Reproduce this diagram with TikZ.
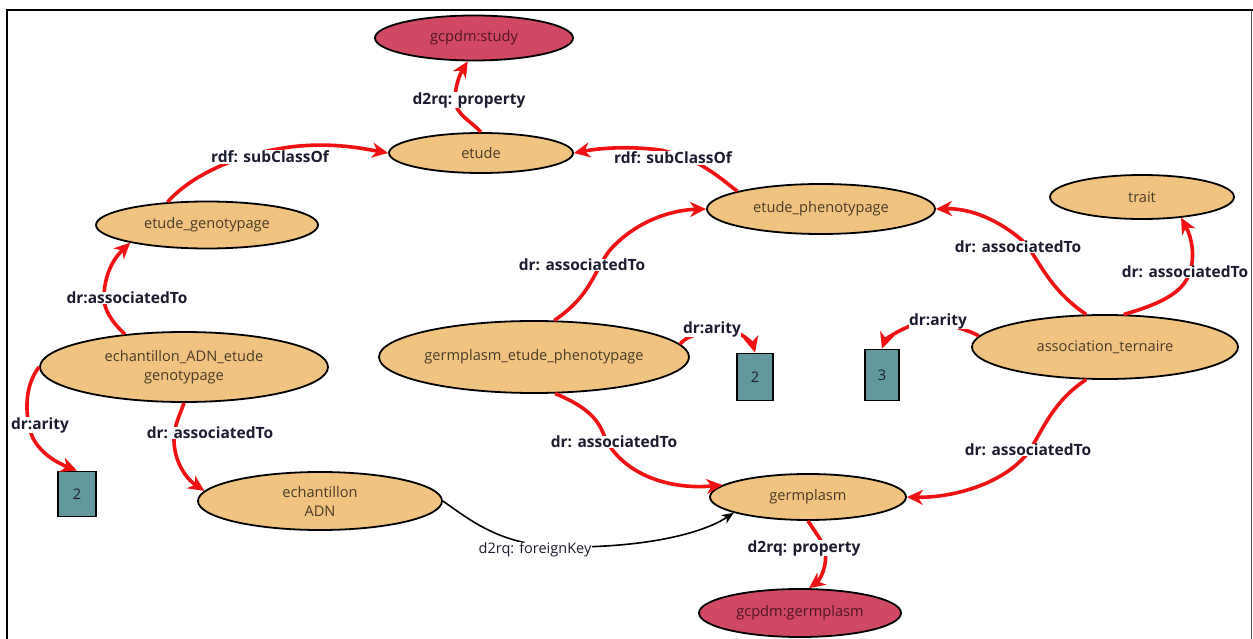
\documentclass[tikz,border=0pt]{standalone}
\usepackage{fontspec}
\setmainfont{Open Sans}
\usetikzlibrary{arrows.meta,shapes.geometric}
\definecolor{nodetan}{RGB}{240,195,128}
\definecolor{studyred}{RGB}{208,72,98}
\definecolor{boxteal}{RGB}{98,152,157}
\definecolor{edgered}{RGB}{240,18,18}
\definecolor{lblcol}{RGB}{28,28,48}
\definecolor{txtcol}{RGB}{72,58,40}
\definecolor{studytxt}{RGB}{80,20,35}
\begin{document}
\begin{tikzpicture}[x=1pt,y=-1pt,
  cls/.style={ellipse, draw=black, line width=1.8pt, fill=nodetan, inner sep=0pt,
    font=\fontsize{14.6}{19}\selectfont, text=txtcol, align=center},
  ext/.style={cls, fill=studyred, text=studytxt},
  numbox/.style={rectangle, draw=black, line width=1.8pt, fill=boxteal, inner sep=0pt,
    font=\fontsize{14.6}{16}\selectfont, text=lblcol},
  lbl/.style={fill=white, inner sep=0.5pt, font=\bfseries\fontsize{15.5}{17}\selectfont, text=lblcol},
  fklbl/.style={fill=white, inner sep=0.5pt, font=\fontsize{14.5}{16}\selectfont, text=lblcol},
  redge/.style={draw=edgered, line width=3.6pt, -{Stealth[length=16pt,width=15pt,inset=5pt]}},
  bedge/.style={draw=black, line width=1.6pt, -{Stealth[length=12pt,width=10pt]}}]
\useasboundingbox (0,0) rectangle (1253,639);
\fill[white] (0,0) rectangle (1253,639);

% nodes
\node[ext, minimum width=198pt, minimum height=45pt] (study) at (474,38) {gcpdm:study};
\node[cls, minimum width=184pt, minimum height=40pt] (etude) at (481,153) {etude};
\node[cls, minimum width=222pt, minimum height=47pt] (geno) at (207,225) {etude\_genotypage};
\node[cls, minimum width=228pt, minimum height=50pt] (pheno) at (821,209) {etude\_phenotypage};
\node[cls, minimum width=184pt, minimum height=44pt] (trait) at (1142,197) {trait};
\node[cls, minimum width=288pt, minimum height=70pt] (echA) at (184,367) {echantillon\_ADN\_etude\\genotypage};
\node[cls, minimum width=294pt, minimum height=72pt] (gep) at (534,357) {germplasm\_etude\_phenotypage};
\node[cls, minimum width=266pt, minimum height=64pt] (assoc) at (1105,347) {association\_ternaire};
\node[numbox, minimum width=36pt, minimum height=47pt] (boxA) at (755,377) {2};
\node[numbox, minimum width=34pt, minimum height=51pt] (boxB) at (882,375) {3};
\node[numbox, minimum width=38pt, minimum height=45pt] (boxL) at (77,494) {2};
\node[cls, minimum width=244pt, minimum height=58pt] (echADN) at (320,501) {echantillon\\ADN};
\node[cls, minimum width=196pt, minimum height=46pt] (germ) at (808,497) {germplasm};
\node[ext, minimum width=202pt, minimum height=48pt] (gg) at (800,613) {gcpdm:germplasm};

% edges
\draw[redge] (etude.north) .. controls (472,122) and (455,114) .. (455,100)
  .. controls (455,86) and (460,74) .. (study.255);
\draw[redge] (geno.150) .. controls (185,182) and (225,156) .. (290,147)
  .. controls (330,142) and (360,148) .. (etude.west);
\draw[redge] (pheno.168) .. controls (722,180) and (700,158) .. (660,150)
  .. controls (630,146) and (600,148) .. (etude.east);
\draw[redge] (assoc.120) .. controls (1050,290) and (1040,262) .. (1025,243)
  .. controls (1000,220) and (970,208) .. (pheno.east);
\draw[redge] (assoc.60) .. controls (1175,300) and (1185,286) .. (1190,272)
  .. controls (1195,256) and (1192,238) .. (trait.-28);
\draw[redge] (gep.61) .. controls (592,295) and (594,270) .. (610,250)
  .. controls (635,222) and (670,210) .. (pheno.west);
\draw[redge] (echA.151) .. controls (112,322) and (104,310) .. (104,298)
  .. controls (104,280) and (110,262) .. (geno.193);
\draw[redge] (gep.5) .. controls (685,335) and (720,325) .. (738,333)
  .. controls (748,338) and (753,345) .. (boxA.north);
\draw[redge] (assoc.175) .. controls (965,328) and (930,318) .. (910,326)
  .. controls (895,332) and (885,340) .. (boxB.north);
\draw[redge] (echA.west) .. controls (25,385) and (25,410) .. (30,430)
  .. controls (35,450) and (55,462) .. (boxL.north);
\draw[redge] (echA.south) .. controls (180,415) and (174,425) .. (174,440)
  .. controls (174,460) and (185,478) .. (echADN.175);
\draw[redge] (gep.-60) .. controls (595,410) and (600,425) .. (606,440)
  .. controls (625,475) and (670,490) .. (germ.172);
\draw[redge] (assoc.240) .. controls (1055,400) and (1045,425) .. (1030,450)
  .. controls (1005,485) and (950,498) .. (germ.east);
\draw[redge] (germ.south) .. controls (815,532) and (822,540) .. (825,550)
  .. controls (828,565) and (820,580) .. (gg.70);
\draw[bedge] (echADN.east) .. controls (470,520) and (500,545) .. (560,547)
  .. controls (640,548) and (700,535) .. (germ.192);

% labels
\node[lbl] (l1) at (469,100) {d2rq: property};
\node[lbl] (l2) at (270,157) {rdf: subClassOf};
\node[lbl] (l3) at (673,158) {rdf: subClassOf};
\node[lbl] (l4) at (1018,247) {dr: associatedTo};
\node[lbl] (l5) at (1185,272) {dr: associatedTo};
\node[lbl] (l6) at (582,265) {dr: associatedTo};
\node[lbl] (l7) at (127,298) {dr:associatedTo};
\node[lbl] (l8) at (712,329) {dr:arity};
\node[lbl] (l9) at (938,321) {dr:arity};
\node[lbl] (l10) at (40,425) {dr:arity};
\node[lbl] (l11) at (210,433) {dr: associatedTo};
\node[lbl] (l12) at (614,442) {dr: associatedTo};
\node[lbl] (l13) at (1028,450) {dr: associatedTo};
\node[lbl] (l14) at (804,548) {d2rq: property};
\node[fklbl] (l15) at (535,550) {d2rq: foreignKey};

% frame
\draw[line width=2.6pt, line cap=rect] (7,639) -- (7,10) -- (1253,10);
\draw[line width=1.6pt, black!65] (1251.5,10) -- (1251.5,639);
\end{tikzpicture}
\end{document}
